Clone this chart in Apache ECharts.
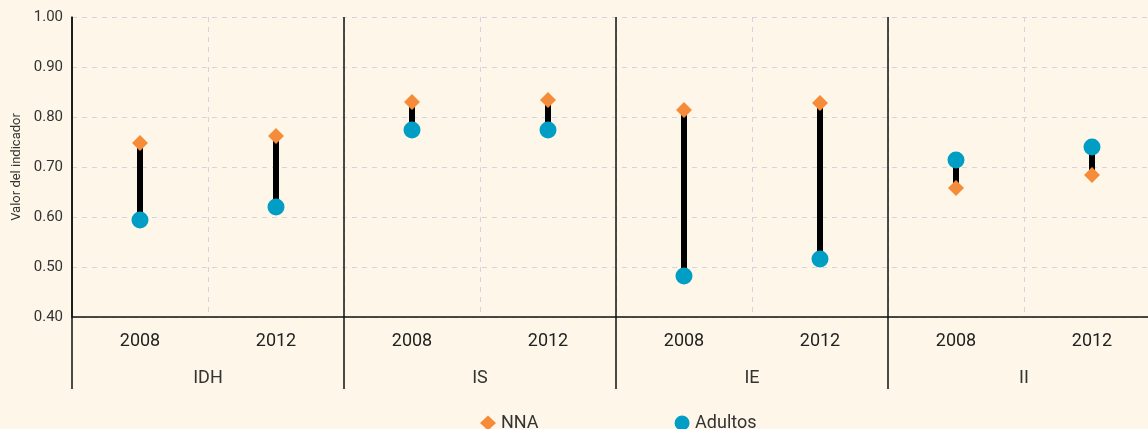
<!DOCTYPE html>
<html>
<head>
<meta charset="utf-8">
<script src="https://cdn.jsdelivr.net/npm/echarts@6/dist/echarts.min.js"></script>
<style>
  html, body { margin: 0; padding: 0; background: #fef7e9; }
  #chart { width: 1148px; height: 429px; }
</style>
</head>
<body>
<div id="chart"></div>
<script>
// data
const years = ['2008', '2012', '2008', '2012', '2008', '2012', '2008', '2012'];
const groups = ['IDH', 'IS', 'IE', 'II'];
const nna = [0.748, 0.762, 0.830, 0.834, 0.814, 0.828, 0.658, 0.684];
const adultos = [0.594, 0.620, 0.774, 0.774, 0.482, 0.516, 0.714, 0.740];

const font = 'Roboto, "Liberation Sans", sans-serif';

const chart = echarts.init(document.getElementById('chart'));
chart.setOption({
    backgroundColor: '#fef7e9',
    animation: false,
    textStyle: { fontFamily: font },
    grid: { left: 72, top: 17, width: 1088, height: 300, containLabel: false, outerBoundsMode: 'none' },
    legend: {
        bottom: -8,
        left: 475,
        itemGap: 136,
        itemWidth: 16,
        itemHeight: 15,
        textStyle: { fontSize: 18, color: '#333', fontFamily: font },
        data: ['NNA', 'Adultos']
    },
    xAxis: [
        {
            type: 'category',
            data: years,
            position: 'bottom',
            axisLine: { lineStyle: { color: '#111', width: 1.5 } },
            axisTick: { show: false },
            axisLabel: { fontSize: 18, color: '#222', margin: 15 },
            splitLine: { show: true, interval: 0, lineStyle: { color: '#d4d4dc', type: [5, 5] } }
        },
        {
            type: 'category',
            data: groups,
            position: 'bottom',
            axisLine: { show: false },
            axisTick: { show: true, length: 72, lineStyle: { color: '#111', width: 1.5 } },
            axisLabel: { fontSize: 18, color: '#333', margin: 52 },
            splitLine: { show: true, lineStyle: { color: '#111', width: 1.5 } }
        }
    ],
    yAxis: {
        type: 'value',
        min: 0.4,
        max: 1.0,
        interval: 0.1,
        name: 'Valor del indicador',
        nameLocation: 'middle',
        nameGap: 49,
        nameTextStyle: { fontSize: 13, color: '#333' },
        axisLine: { show: true, lineStyle: { color: '#111', width: 1.5 } },
        axisTick: { show: false },
        axisLabel: {
            fontSize: 15, color: '#333', margin: 9,
            formatter: v => v.toFixed(2)
        },
        splitLine: { lineStyle: { color: '#d4d4dc', type: [5, 5] } }
    },
    series: [
        {
            type: 'custom',
            name: 'gap',
            data: nna.map((v, i) => [i, v, adultos[i]]),
            renderItem: (params, api) => {
                const a = api.coord([api.value(0), api.value(1)]);
                const b = api.coord([api.value(0), api.value(2)]);
                return {
                    type: 'line',
                    shape: { x1: a[0], y1: a[1], x2: b[0], y2: b[1] },
                    style: { stroke: '#000', lineWidth: 6 }
                };
            },
            z: 1
        },
        {
            type: 'scatter',
            name: 'NNA',
            symbol: 'diamond',
            symbolSize: 16,
            itemStyle: { color: '#f68b3a', opacity: 1 },
            data: nna.map((v, i) => [i, v]),
            z: 3
        },
        {
            type: 'scatter',
            name: 'Adultos',
            symbol: 'circle',
            symbolSize: 17,
            itemStyle: { color: '#009ec5', opacity: 1 },
            data: adultos.map((v, i) => [i, v]),
            z: 3
        }
    ]
});
</script>
</body>
</html>
